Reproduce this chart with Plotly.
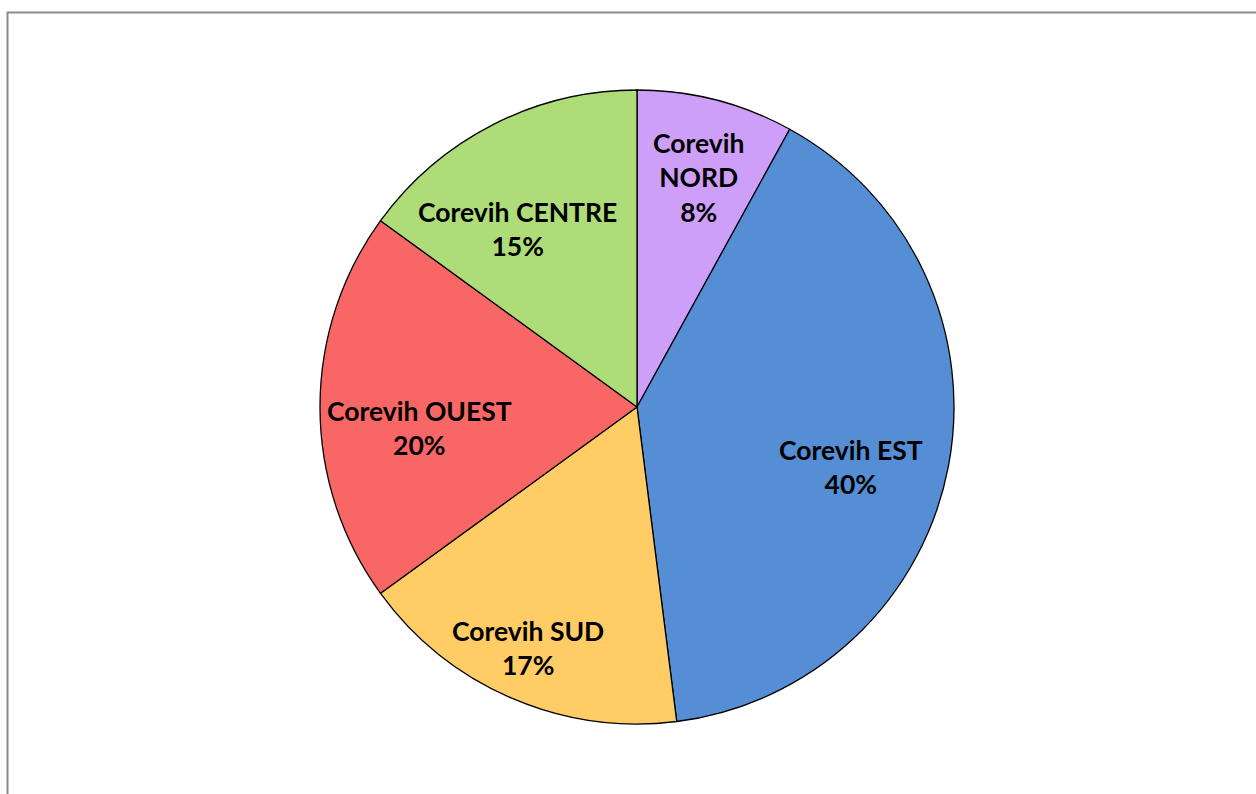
import math
import plotly.graph_objects as go

categories = ["Corevih NORD", "Corevih EST", "Corevih SUD", "Corevih OUEST", "Corevih CENTRE"]
values = [8, 40, 17, 20, 15]
label_texts = ["Corevih<br>NORD<br>8%", "Corevih EST<br>40%", "Corevih SUD<br>17%",
               "Corevih OUEST<br>20%", "Corevih CENTRE<br>15%"]
colors = ["#CE9FF9", "#558ED5", "#FFCC66", "#F96666", "#ADDC78"]

W, H = 1256, 794
cx, cy, R = 637, 407, 317
dom_x = [(cx - R) / W, (cx + R) / W]
dom_y = [1 - (cy + R) / H, 1 - (cy - R) / H]

fig = go.Figure(go.Pie(
    labels=categories, values=values, sort=False, direction="clockwise", rotation=0,
    marker=dict(colors=colors, line=dict(color="black", width=1.3)),
    textinfo="none", hoverinfo="label+percent", showlegend=False,
    domain=dict(x=dom_x, y=dom_y),
))

# label positions derived from slice mid-angles (with small layout offsets)
total = sum(values)
cum = 0
ratios = [0.75, 0.70, 0.835, 0.69, 0.675]
ang_off = [0.5, 5.0, 0.8, -5.5, -6.8]
for v, t, rr, off in zip(values, label_texts, ratios, ang_off):
    mid = (cum + v / 2) / total * 2 * math.pi + math.radians(off)
    cum += v
    x = cx + rr * R * math.sin(mid)
    y = cy - rr * R * math.cos(mid)
    fig.add_annotation(x=x / W, y=1 - y / H, xref="paper", yref="paper", text=t,
                       showarrow=False, align="center", xanchor="center", yanchor="middle",
                       font=dict(family="Lato, Carlito, sans-serif", size=26.5, color="black", weight="bold"))

fig.add_shape(type="rect", xref="paper", yref="paper",
              x0=7.5 / W, x1=1.02, y0=-0.02, y1=1 - 12.5 / H,
              line=dict(color="#8C8C8C", width=2))

fig.update_layout(width=W, height=H, margin=dict(l=0, r=0, t=0, b=0),
                  paper_bgcolor="white", plot_bgcolor="white")
fig.write_html("out.html", config={"displayModeBar": False},
               post_script="document.body.style.margin='0';")
